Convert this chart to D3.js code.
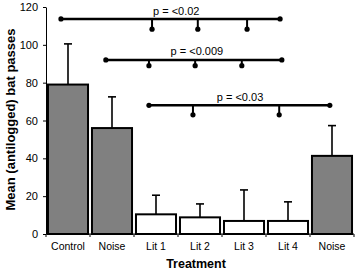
<!DOCTYPE html>
<html>
<head>
<meta charset="utf-8">
<script src="https://cdn.jsdelivr.net/npm/d3@7"></script>
<style>
  body { margin: 0; background: #fff; }
  text { font-family: "Liberation Sans", Arial, sans-serif; }
</style>
</head>
<body>
<div id="chart"></div>
<script>
const categories = ["Control", "Noise", "Lit 1", "Lit 2", "Lit 3", "Lit 4", "Noise"];
const means = [79, 56, 10.4, 8.8, 6.9, 6.9, 41.3];
const errTops = [100.5, 72.5, 20.5, 15.9, 23.3, 17, 57.3];
const filled = [true, true, false, false, false, false, true];
const yTicks = [0, 20, 40, 60, 80, 100, 120];

// significance brackets: positions in category units (0..7), y in data units
const brackets = [
  { label: "p = <0.02", y: 113.7, drop: 108.3, start: 0.34, end: 5.32, drops: [2.41, 3.45, 4.57], labelX: 2.96, labelY: 116 },
  { label: "p = <0.009", y: 92, drop: 89, start: 1.36, end: 5.36, drops: [2.34, 3.39, 4.45], labelX: 3.43, labelY: 94.5 },
  { label: "p = <0.03", y: 68, drop: 63, start: 2.34, end: 6.45, drops: [3.34, 5.30], labelX: 4.41, labelY: 70.5 }
];

const width = 355, height = 272;
const margin = { left: 46, right: 1, top: 7, bottom: 38 };

const svg = d3.select("#chart").append("svg")
  .attr("width", width)
  .attr("height", height);

const x = d3.scaleBand()
  .domain(d3.range(categories.length))
  .range([margin.left, width - margin.right])
  .paddingInner(0.09)
  .paddingOuter(0.045);

const xPos = d3.scaleLinear()
  .domain([0, categories.length])
  .range([margin.left, width - margin.right]);

const y = d3.scaleLinear()
  .domain([0, 120])
  .range([height - margin.bottom, margin.top]);

// error bars (drawn behind bars)
svg.selectAll(".err").data(means).enter().append("g")
  .each(function (d, i) {
    const g = d3.select(this);
    const cx = x(i) + x.bandwidth() / 2;
    g.append("line")
      .attr("x1", cx).attr("x2", cx)
      .attr("y1", y(d)).attr("y2", y(errTops[i]))
      .attr("stroke", "#000").attr("stroke-width", 1.6);
    g.append("line")
      .attr("x1", cx - 4).attr("x2", cx + 4)
      .attr("y1", y(errTops[i])).attr("y2", y(errTops[i]))
      .attr("stroke", "#000").attr("stroke-width", 1.6);
  });

// bars
svg.selectAll(".bar").data(means).enter().append("rect")
  .attr("x", (d, i) => x(i))
  .attr("y", d => y(d))
  .attr("width", x.bandwidth())
  .attr("height", d => y(0) - y(d))
  .attr("fill", (d, i) => filled[i] ? "#808080" : "#fff")
  .attr("stroke", "#000")
  .attr("stroke-width", 2);

// y axis
const yAxis = svg.append("g")
  .attr("transform", `translate(${margin.left},0)`)
  .call(d3.axisLeft(y).tickValues(yTicks).tickSize(3).tickSizeOuter(0));
yAxis.select(".domain").attr("stroke", "#000").attr("stroke-width", 1);
yAxis.selectAll("text").attr("font-size", 11).attr("fill", "#000").attr("dx", -2);

// x axis
const xAxis = svg.append("g")
  .attr("transform", `translate(0,${y(0)})`);
xAxis.append("line")
  .attr("x1", margin.left).attr("x2", width - margin.right)
  .attr("y1", 0).attr("y2", 0)
  .attr("stroke", "#000");
xAxis.selectAll(".tk").data(d3.range(categories.length + 1)).enter().append("line")
  .attr("x1", d => xPos(d)).attr("x2", d => xPos(d))
  .attr("y1", 0).attr("y2", 3)
  .attr("stroke", "#000");
xAxis.selectAll(".lbl").data(categories).enter().append("text")
  .attr("x", (d, i) => x(i) + x.bandwidth() / 2)
  .attr("y", 16)
  .attr("text-anchor", "middle")
  .attr("font-size", 10.5)
  .text(d => d);

// axis titles
svg.append("text")
  .attr("x", 196).attr("y", 268)
  .attr("text-anchor", "middle")
  .attr("font-size", 12.5)
  .attr("font-weight", "bold")
  .text("Treatment");

svg.append("text")
  .attr("transform", `translate(15,${(y(0) + y(120)) / 2 - 1}) rotate(-90)`)
  .attr("text-anchor", "middle")
  .attr("font-size", 13)
  .attr("font-weight", "bold")
  .text("Mean (antilogged) bat passes");

// significance brackets
brackets.forEach(b => {
  const g = svg.append("g");
  g.append("line")
    .attr("x1", xPos(b.start)).attr("x2", xPos(b.end))
    .attr("y1", y(b.y)).attr("y2", y(b.y))
    .attr("stroke", "#000").attr("stroke-width", 2.5);
  [b.start, b.end].forEach(p => {
    g.append("circle").attr("cx", xPos(p)).attr("cy", y(b.y)).attr("r", 2.6).attr("fill", "#000");
  });
  b.drops.forEach(p => {
    g.append("line")
      .attr("x1", xPos(p)).attr("x2", xPos(p))
      .attr("y1", y(b.y)).attr("y2", y(b.drop))
      .attr("stroke", "#000").attr("stroke-width", 2);
    g.append("circle").attr("cx", xPos(p)).attr("cy", y(b.drop)).attr("r", 2.6).attr("fill", "#000");
  });
  g.append("text")
    .attr("x", xPos(b.labelX)).attr("y", y(b.labelY))
    .attr("text-anchor", "middle")
    .attr("font-size", 11)
    .text(b.label);
});
</script>
</body>
</html>
